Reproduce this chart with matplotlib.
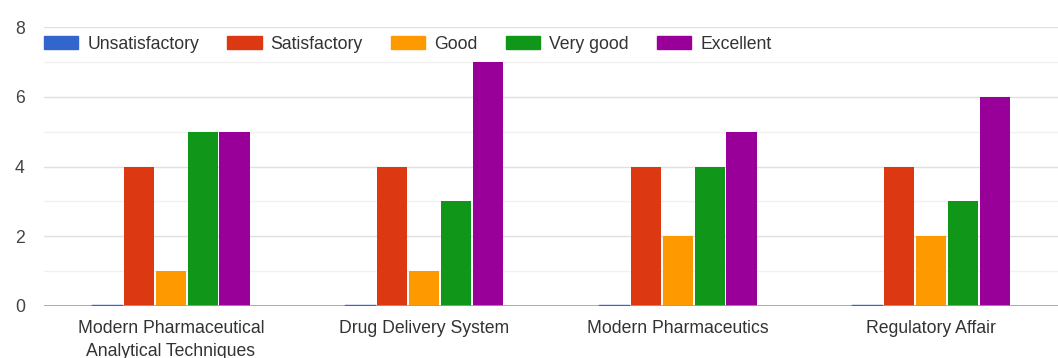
import numpy as np
import matplotlib
matplotlib.use('Agg')
import matplotlib.pyplot as plt
from matplotlib.patches import Patch

plt.rcParams['font.family'] = ['Liberation Sans', 'DejaVu Sans']

# 数据
categories = ['Modern Pharmaceutical\nAnalytical Techniques', 'Drug Delivery System',
              'Modern Pharmaceutics', 'Regulatory Affair']
ratings = ['Unsatisfactory', 'Satisfactory', 'Good', 'Very good', 'Excellent']
unsatisfactory = [0, 0, 0, 0]
satisfactory = [4, 4, 4, 4]
good = [1, 1, 2, 2]
very_good = [5, 3, 4, 3]
excellent = [5, 7, 5, 6]
colors = ['#3366cc', '#dc3912', '#ff9900', '#109618', '#990099']

series = [unsatisfactory, satisfactory, good, very_good, excellent]
FS = 12.7

fig = plt.figure(figsize=(10.58, 3.58), dpi=100)
ax = fig.add_axes([44 / 1058, 1 - 306 / 358, 1 - 44 / 1058, 279 / 358])

x = np.arange(len(categories))
bw = 0.126
for i, (vals, c) in enumerate(zip(series, colors)):
    pos = x + (i - 2) * bw
    ax.bar(pos, vals, width=bw * 0.95, color=c, zorder=3)
    # 零值柱画成底部细线
    for p, v in zip(pos, vals):
        if v == 0:
            ax.plot([p - bw * 0.47, p + bw * 0.47], [0.02, 0.02], color=c, lw=1, zorder=6)

ax.set_xlim(-0.5, len(categories) - 0.5)
ax.set_ylim(0, 8)
ax.set_yticks([0, 2, 4, 6, 8])
ax.set_yticks(range(0, 9), minor=True)
ax.grid(True, axis='y', which='major', color='#e0e0e0', lw=1, zorder=0)
ax.grid(True, axis='y', which='minor', color='#f1f1f1', lw=1, zorder=0)
ax.axhline(0, color='#9e9e9e', lw=1.2, zorder=5)

ax.set_xticks(x)
ax.set_xticklabels(categories, fontsize=FS, color='#333333', linespacing=1.45)
ax.tick_params(axis='x', length=0, pad=10)
ax.tick_params(axis='y', which='both', length=0, labelsize=FS, labelcolor='#444444', pad=21)
for lbl in ax.get_yticklabels():
    lbl.set_horizontalalignment('left')
for s in ax.spines.values():
    s.set_visible(False)

handles = [Patch(color=c, label=r) for c, r in zip(colors, ratings)]
ax.legend(handles=handles, ncol=5, loc='center left', bbox_to_anchor=(0.0, 0.939),
          frameon=False, fontsize=FS, handlelength=1.95, handleheight=0.75,
          handletextpad=0.5, columnspacing=1.6, borderaxespad=0, borderpad=0,
          labelcolor='#333333')

plt.savefig('out.png', dpi=100)
